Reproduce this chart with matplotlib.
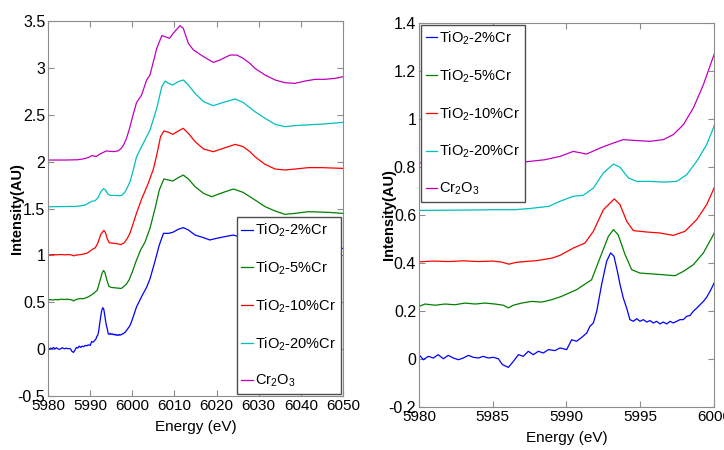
import matplotlib
matplotlib.use('Agg')
import matplotlib.pyplot as plt
from matplotlib.ticker import FormatStrFormatter

plt.rcParams['font.family'] = ['Liberation Sans Narrow', 'Liberation Sans', 'DejaVu Sans']
plt.rcParams['font.stretch'] = 'condensed'
plt.rcParams['mathtext.fontset'] = 'custom'
plt.rcParams['mathtext.rm'] = 'Liberation Sans'
plt.rcParams['mathtext.it'] = 'Liberation Sans'
plt.rcParams['mathtext.bf'] = 'Liberation Sans'
plt.rcParams['axes.unicode_minus'] = False

# Cr K-edge XANES, raw spectra (no offset)
e_2 = [5980.0, 5980.3, 5980.63, 5980.97, 5981.3, 5981.65, 5981.99, 5982.33, 5982.67, 5983.0,
       5983.35, 5983.69, 5984.02, 5984.36, 5984.7, 5985.04, 5985.38, 5985.65, 5986.06, 5986.4,
       5986.74, 5987.07, 5987.41, 5987.75, 5988.09, 5988.43, 5988.77, 5989.22, 5989.56, 5990.01,
       5990.35, 5990.69, 5991.03, 5991.37, 5991.59, 5991.82, 5992.05, 5992.38, 5992.72, 5992.99,
       5993.22, 5993.45, 5993.63, 5993.85, 5994.08, 5994.3, 5994.53, 5994.76, 5994.98, 5995.21,
       5995.44, 5995.66, 5995.89, 5996.11, 5996.34, 5996.57, 5996.79, 5997.02, 5997.24, 5997.47,
       5997.7, 5997.92, 5998.15, 5998.37, 5998.6, 5998.83, 5999.05, 5999.28, 5999.5, 5999.73,
       5999.96, 6001.0, 6002.2, 6003.4, 6004.2, 6005.4, 6006.4, 6007.4, 6008.6, 6009.6,
       6010.9, 6012.1, 6013.3, 6014.9, 6016.9, 6018.4, 6020.0, 6022.0, 6024.0, 6026.0,
       6027.9, 6029.1, 6031.5, 6035.0, 6040.0, 6045.0, 6050.0]
i_2 = [0.018, -0.003, 0.011, 0.004, 0.018, 0.001, 0.015, 0.004, -0.003, 0.004,
       0.015, 0.007, 0.004, 0.011, 0.004, 0.007, 0.001, -0.023, -0.035, -0.010,
       0.018, 0.011, 0.032, 0.018, 0.032, 0.025, 0.039, 0.035, 0.046, 0.039,
       0.080, 0.074, 0.090, 0.108, 0.136, 0.150, 0.199, 0.310, 0.407, 0.442,
       0.428, 0.365, 0.310, 0.254, 0.212, 0.164, 0.157, 0.168, 0.157, 0.164,
       0.154, 0.160, 0.150, 0.157, 0.146, 0.154, 0.146, 0.157, 0.150, 0.157,
       0.164, 0.164, 0.178, 0.181, 0.199, 0.212, 0.226, 0.240, 0.257, 0.282,
       0.310, 0.45, 0.56, 0.66, 0.75, 0.94, 1.11, 1.235, 1.235, 1.246,
       1.278, 1.296, 1.271, 1.217, 1.189, 1.164, 1.182, 1.200, 1.217, 1.189,
       1.129, 1.111, 1.047, 1.0, 1.02, 1.05, 1.075]

e_5 = [5980.0, 5980.41, 5981.1, 5981.76, 5982.44, 5983.12, 5983.8, 5984.48, 5985.15, 5985.72,
       5986.06, 5986.4, 5986.96, 5987.64, 5988.32, 5989.0, 5989.67, 5990.69, 5991.7, 5992.27,
       5992.84, 5993.18, 5993.5, 5993.97, 5994.42, 5994.98, 5995.9, 5996.57, 5997.36, 5997.92,
       5998.6, 5999.28, 5999.96, 6001.0, 6002.0, 6003.0, 6004.2, 6005.4, 6006.4, 6007.5,
       6008.6, 6009.6, 6010.9, 6012.1, 6013.3, 6014.9, 6016.9, 6018.8, 6021.6, 6024.0,
       6026.3, 6027.9, 6029.1, 6031.5, 6033.9, 6036.2, 6038.6, 6041.8, 6046.5, 6050.0]
i_5 = [0.019, 0.029, 0.024, 0.029, 0.026, 0.033, 0.029, 0.033, 0.029, 0.024,
       0.013, 0.024, 0.033, 0.040, 0.037, 0.047, 0.061, 0.089, 0.130, 0.221,
       0.311, 0.339, 0.318, 0.235, 0.172, 0.158, 0.154, 0.151, 0.147, 0.165,
       0.193, 0.242, 0.318, 0.45, 0.56, 0.64, 0.79, 1.0, 1.197, 1.315,
       1.304, 1.293, 1.329, 1.357, 1.315, 1.233, 1.162, 1.126, 1.172, 1.208,
       1.172, 1.126, 1.091, 1.020, 0.973, 0.938, 0.948, 0.966, 0.959, 0.948]

e_10 = [5980.0, 5981.0, 5982.0, 5983.0, 5984.0, 5985.0, 5985.6, 5986.1, 5986.6, 5987.0,
        5988.0, 5989.0, 5989.56, 5990.46, 5991.25, 5991.82, 5992.5, 5993.24, 5993.63, 5994.08,
        5994.53, 5995.44, 5996.34, 5997.24, 5998.03, 5998.83, 5999.5, 5999.96, 6001.0, 6002.2,
        6003.8, 6005.0, 6005.8, 6006.7, 6007.5, 6008.6, 6009.6, 6010.9, 6012.1, 6013.3,
        6014.9, 6016.9, 6019.2, 6021.6, 6024.4, 6026.3, 6027.9, 6029.1, 6031.5, 6033.9,
        6036.2, 6038.6, 6041.8, 6044.9, 6050.0]
i_10 = [0.005, 0.008, 0.006, 0.009, 0.006, 0.008, 0.004, -0.005, 0.003, 0.005,
        0.010, 0.020, 0.032, 0.062, 0.083, 0.132, 0.222, 0.267, 0.243, 0.174,
        0.135, 0.129, 0.125, 0.115, 0.132, 0.181, 0.243, 0.306, 0.45, 0.60,
        0.77, 0.92, 1.071, 1.266, 1.327, 1.313, 1.291, 1.327, 1.355, 1.302,
        1.213, 1.135, 1.106, 1.142, 1.184, 1.160, 1.106, 1.053, 0.971, 0.921,
        0.911, 0.921, 0.936, 0.936, 0.928]

e_20 = [5980.0, 5982.0, 5984.0, 5985.0, 5986.5, 5987.5, 5988.8, 5989.56, 5990.46, 5991.14,
        5991.82, 5992.5, 5993.18, 5993.63, 5994.2, 5994.76, 5995.66, 5996.57, 5997.47, 5998.15,
        5998.83, 5999.5, 5999.96, 6001.0, 6002.2, 6003.0, 6004.2, 6005.8, 6007.0, 6007.8,
        6008.6, 6009.6, 6010.9, 6012.1, 6013.3, 6014.9, 6016.9, 6019.2, 6021.6, 6024.4,
        6026.3, 6027.9, 6029.1, 6031.5, 6033.9, 6036.2, 6038.6, 6041.0, 6044.2, 6047.3,
        6050.0]
i_20 = [0.019, 0.020, 0.021, 0.022, 0.022, 0.027, 0.036, 0.057, 0.078, 0.082,
        0.112, 0.175, 0.212, 0.199, 0.154, 0.140, 0.140, 0.137, 0.140, 0.168,
        0.224, 0.293, 0.363, 0.55, 0.66, 0.73, 0.837, 1.068, 1.300, 1.360,
        1.335, 1.317, 1.353, 1.371, 1.317, 1.228, 1.140, 1.097, 1.132, 1.168,
        1.132, 1.075, 1.033, 0.962, 0.898, 0.873, 0.884, 0.891, 0.898, 0.908,
        0.919]

e_cr = [5980.0, 5984.0, 5987.0, 5988.5, 5989.56, 5990.46, 5991.37, 5992.27, 5993.18, 5993.85,
        5994.76, 5995.66, 5996.57, 5997.24, 5997.92, 5998.6, 5999.28, 5999.96, 6001.0, 6002.2,
        6003.4, 6004.2, 6005.8, 6007.0, 6007.8, 6008.8, 6009.7, 6011.3, 6012.1, 6013.3,
        6014.5, 6016.9, 6019.2, 6020.8, 6023.2, 6024.8, 6026.3, 6027.9, 6029.1, 6031.5,
        6033.9, 6036.2, 6038.6, 6041.0, 6043.4, 6045.7, 6048.1, 6050.0]
i_cr = [0.017, 0.017, 0.020, 0.030, 0.044, 0.065, 0.054, 0.079, 0.100, 0.114,
        0.110, 0.107, 0.114, 0.135, 0.176, 0.246, 0.343, 0.461, 0.63, 0.71,
        0.87, 0.924, 1.208, 1.344, 1.333, 1.315, 1.368, 1.450, 1.422, 1.262,
        1.191, 1.120, 1.059, 1.084, 1.137, 1.137, 1.102, 1.048, 0.995, 0.924,
        0.871, 0.842, 0.835, 0.860, 0.878, 0.878, 0.888, 0.906]

labels = ['TiO$_2$-2%Cr', 'TiO$_2$-5%Cr', 'TiO$_2$-10%Cr', 'TiO$_2$-20%Cr', 'Cr$_2$O$_3$']
energies = [e_2, e_5, e_10, e_20, e_cr]
spectra = [i_2, i_5, i_10, i_20, i_cr]
colors = ['#0000ff', '#008000', '#ff0000', '#00bfbf', '#bf00bf']
offset_left = [0, 0.5, 1.0, 1.5, 2.0]
offset_right = [0, 0.2, 0.4, 0.6, 0.8]

fig = plt.figure(figsize=(7.24, 4.5), dpi=100)
ax1 = fig.add_axes([0.0663, 0.12, 0.4075, 0.8333])
ax2 = fig.add_axes([0.5787, 0.0956, 0.4075, 0.8533])

for e, s, c, o in zip(energies, spectra, colors, offset_left):
    ax1.plot(e, [v + o for v in s], color=c, lw=0.9)
for e, s, c, o in zip(energies, spectra, colors, offset_right):
    ax2.plot(e, [v + o for v in s], color=c, lw=0.9)

ax1.set_xlim(5980, 6050)
ax1.set_ylim(-0.5, 3.5)
ax1.set_xticks(range(5980, 6051, 10))
ax1.set_yticks([-0.5, 0, 0.5, 1, 1.5, 2, 2.5, 3, 3.5])
ax2.set_xlim(5980, 6000)
ax2.set_ylim(-0.2, 1.4)
ax2.set_xticks(range(5980, 6001, 5))
ax2.set_yticks([-0.2, 0, 0.2, 0.4, 0.6, 0.8, 1.0, 1.2, 1.4])

for ax in (ax1, ax2):
    ax.yaxis.set_major_formatter(FormatStrFormatter('%g'))
    for sp in ax.spines.values():
        sp.set_color('0.55')
    ax.tick_params(direction='in', length=4, color='0.55', top=True, right=True, pad=2)
    ax.tick_params(axis='x', labelsize=11)
    ax.tick_params(axis='y', labelsize=11.5)
    ax.set_xlabel('Energy (eV)', fontsize=11, va='top')
    ax.set_ylabel('Intensity(AU)', fontsize=10.5, fontweight='bold', family='Liberation Sans')

ax1.xaxis.set_label_coords(0.5, -0.064)
ax2.xaxis.set_label_coords(0.5, -0.062)
ax1.yaxis.set_label_coords(-0.081, 0.5)
ax2.yaxis.set_label_coords(-0.078, 0.5)

leg_kw = dict(fontsize=10.5, handlelength=0.8, handletextpad=0.15, labelspacing=1.4,
              borderpad=0.3, borderaxespad=0.15, fancybox=False, edgecolor='0.3',
              framealpha=1)
ax1.legend(labels, loc='lower right', **leg_kw)
ax2.legend(labels, loc='upper left', **leg_kw)

fig.savefig('out.png', dpi=100)
